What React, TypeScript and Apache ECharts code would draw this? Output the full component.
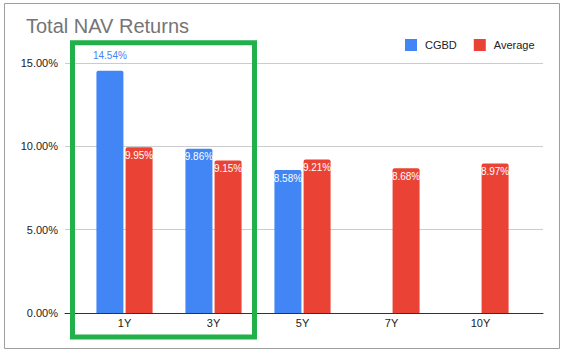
import React, { useEffect, useRef } from "react";
import * as echarts from "echarts";

const categories = ["1Y", "3Y", "5Y", "7Y", "10Y"];
const cgbd: (number | null)[] = [14.54, 9.86, 8.58, null, null];
const average: number[] = [9.95, 9.15, 9.21, 8.68, 8.97];
const yTicks = { min: 0, max: 15, interval: 5 };

const BLUE = "#4285f4";
const RED = "#ea4335";
const FONT = "Arial, 'Liberation Sans', sans-serif";

export default function App() {
  const ref = useRef<HTMLDivElement>(null);
  useEffect(() => {
    if (!ref.current) return;
    const chart = echarts.init(ref.current, undefined, { renderer: "svg" });
    const fmt = (v: number) => v.toFixed(2) + "%";
    const insideLabel = {
      show: true,
      position: "insideTop",
      distance: 3,
      color: "#fff",
      fontSize: 10,
      fontFamily: FONT,
      formatter: (p: any) => fmt(p.value),
    };
    chart.setOption({
      animation: false,
      textStyle: { fontFamily: FONT },
      title: {
        text: "Total NAV Returns",
        left: 21,
        top: 11,
        textStyle: { fontSize: 20, fontWeight: "normal", color: "#757575", fontFamily: FONT },
      },
      legend: {
        left: 400,
        top: 34,
        itemWidth: 12,
        itemHeight: 12,
        itemGap: 17,
        icon: "rect",
        textStyle: { fontSize: 11, color: "#222", fontFamily: FONT, padding: [0, 0, 0, 3] },
        data: ["CGBD", "Average"],
      },
      grid: [
        { left: 65, right: 20, top: 63, bottom: 38 },
        { left: 80, right: 38, top: 63, bottom: 38 },
      ],
      xAxis: [
        {
          gridIndex: 0,
          type: "value",
          min: 0,
          max: 1,
          axisLine: { show: true, lineStyle: { color: "#333", width: 1 } },
          axisTick: { show: false },
          axisLabel: { show: false },
          splitLine: { show: false },
        },
        {
          gridIndex: 1,
          type: "category",
          data: categories,
          axisLine: { show: false },
          axisTick: { show: false },
          axisLabel: { fontSize: 11, color: "#222", margin: 4, fontFamily: FONT },
        },
      ],
      yAxis: [
        {
          gridIndex: 0,
          type: "value",
          min: yTicks.min,
          max: yTicks.max,
          interval: yTicks.interval,
          axisLine: { show: false },
          axisTick: { show: false },
          axisLabel: { fontSize: 11, color: "#222", margin: 7, formatter: (v: number) => fmt(v), fontFamily: FONT },
          splitLine: { lineStyle: { color: "#ccc" } },
        },
        {
          gridIndex: 1,
          type: "value",
          min: yTicks.min,
          max: yTicks.max,
          show: false,
        },
      ],
      series: [
        {
          name: "CGBD",
          type: "bar",
          xAxisIndex: 1,
          yAxisIndex: 1,
          barWidth: 27,
          barGap: "8%",
          itemStyle: { color: BLUE, borderRadius: [2, 2, 0, 0] },
          label: insideLabel,
          data: cgbd.map((v, i) =>
            i === 0
              ? { value: v, label: { position: "top", distance: 10, color: BLUE } }
              : { value: v }
          ),
        },
        {
          name: "Average",
          type: "bar",
          xAxisIndex: 1,
          yAxisIndex: 1,
          barWidth: 27,
          barGap: "8%",
          itemStyle: { color: RED, borderRadius: [2, 2, 0, 0] },
          label: insideLabel,
          data: average,
        },
      ],
      graphic: [
        {
          type: "rect",
          shape: { x: 4.5, y: 3.5, width: 555, height: 345 },
          style: { fill: "none", stroke: "#9e9e9e", lineWidth: 1 },
          silent: true,
        },
        {
          type: "rect",
          shape: { x: 72.5, y: 42.7, width: 182, height: 294.3 },
          style: { fill: "none", stroke: "#22b04b", lineWidth: 5 },
          silent: true,
          z: 100,
        },
      ],
    });
    return () => chart.dispose();
  }, []);
  return (
    <div
      ref={ref}
      style={{ position: "fixed", left: 0, top: 0, width: 563, height: 351, background: "#fff" }}
    />
  );
}
